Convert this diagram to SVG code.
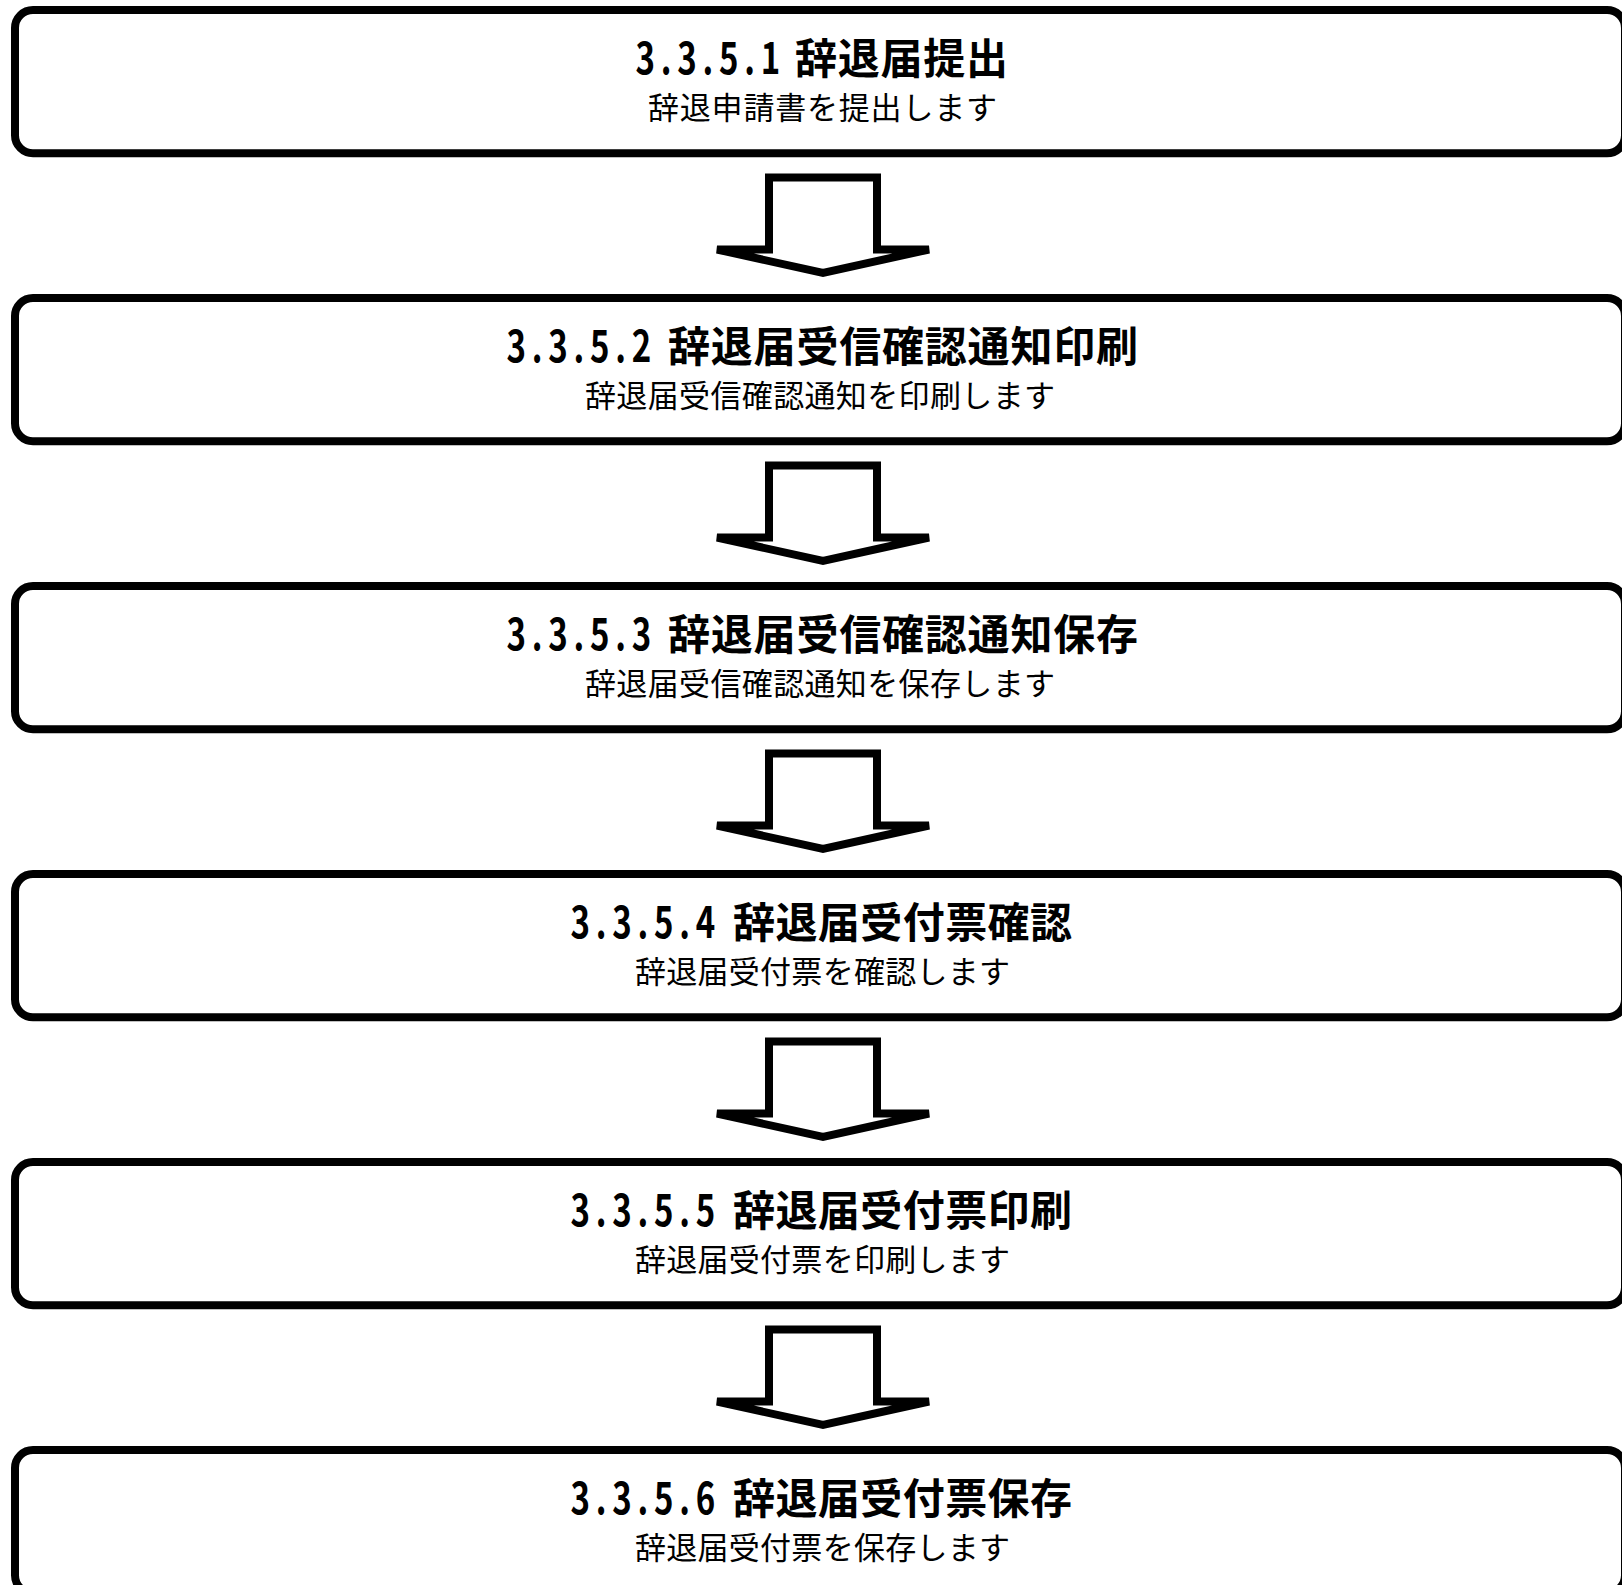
<svg xmlns="http://www.w3.org/2000/svg" width="1622" height="1585" viewBox="0 0 1622 1585">
<style>
.box{fill:#fff;stroke:#000;stroke-width:8}
.arr{fill:#fff;stroke:#000;stroke-width:8;stroke-linejoin:miter}
.t{font-family:"Noto Sans CJK JP","Noto Sans CJK SC",sans-serif;font-weight:bold;font-size:42px;fill:#000}
.n{font-family:"Noto Sans CJK JP","Noto Sans CJK SC",sans-serif;font-weight:bold;font-size:44px;fill:#000}
.s{font-family:"Noto Sans CJK JP","Noto Sans CJK SC",sans-serif;font-weight:normal;font-size:31px;fill:#000}
</style>
<defs>
<path id="arrow" class="arr" d="M769,177.5 H877 V249.5 H929 L823,273 L717,249.5 H769 Z"/>
</defs>
<rect width="1622" height="1585" fill="#fff"/>
<g id="connectors">
<use href="#arrow"/>
<use href="#arrow" y="288"/>
<use href="#arrow" y="576"/>
<use href="#arrow" y="864"/>
<use href="#arrow" y="1152"/>
</g>
<g id="n1">
<rect class="box" x="15" y="10" width="1610" height="143.3" rx="18"/>
<text class="n" transform="translate(635.5,74) scale(0.75,1)" textLength="193" lengthAdjust="spacing">3.3.5.1</text>
<text class="t" x="795" y="74" textLength="213" lengthAdjust="spacing">辞退届提出</text>
<text class="s" x="648" y="119" textLength="349" lengthAdjust="spacing">辞退申請書を提出します</text>
</g>
<g id="n2">
<rect class="box" x="15" y="298" width="1610" height="143.3" rx="18"/>
<text class="n" transform="translate(506.5,362) scale(0.75,1)" textLength="193" lengthAdjust="spacing">3.3.5.2</text>
<text class="t" x="668" y="362" textLength="470" lengthAdjust="spacing">辞退届受信確認通知印刷</text>
<text class="s" x="585" y="407" textLength="470" lengthAdjust="spacing">辞退届受信確認通知を印刷します</text>
</g>
<g id="n3">
<rect class="box" x="15" y="586" width="1610" height="143.3" rx="18"/>
<text class="n" transform="translate(506.5,650) scale(0.75,1)" textLength="193" lengthAdjust="spacing">3.3.5.3</text>
<text class="t" x="668" y="650" textLength="470" lengthAdjust="spacing">辞退届受信確認通知保存</text>
<text class="s" x="585" y="695" textLength="470" lengthAdjust="spacing">辞退届受信確認通知を保存します</text>
</g>
<g id="n4">
<rect class="box" x="15" y="874" width="1610" height="143.3" rx="18"/>
<text class="n" transform="translate(570.5,938) scale(0.75,1)" textLength="193" lengthAdjust="spacing">3.3.5.4</text>
<text class="t" x="733" y="938" textLength="339" lengthAdjust="spacing">辞退届受付票確認</text>
<text class="s" x="635" y="983" textLength="375" lengthAdjust="spacing">辞退届受付票を確認します</text>
</g>
<g id="n5">
<rect class="box" x="15" y="1162" width="1610" height="143.3" rx="18"/>
<text class="n" transform="translate(570.5,1226) scale(0.75,1)" textLength="193" lengthAdjust="spacing">3.3.5.5</text>
<text class="t" x="733" y="1226" textLength="339" lengthAdjust="spacing">辞退届受付票印刷</text>
<text class="s" x="635" y="1271" textLength="375" lengthAdjust="spacing">辞退届受付票を印刷します</text>
</g>
<g id="n6">
<rect class="box" x="15" y="1450" width="1610" height="143.3" rx="18"/>
<text class="n" transform="translate(570.5,1514) scale(0.75,1)" textLength="193" lengthAdjust="spacing">3.3.5.6</text>
<text class="t" x="733" y="1514" textLength="339" lengthAdjust="spacing">辞退届受付票保存</text>
<text class="s" x="635" y="1559" textLength="375" lengthAdjust="spacing">辞退届受付票を保存します</text>
</g>
</svg>
